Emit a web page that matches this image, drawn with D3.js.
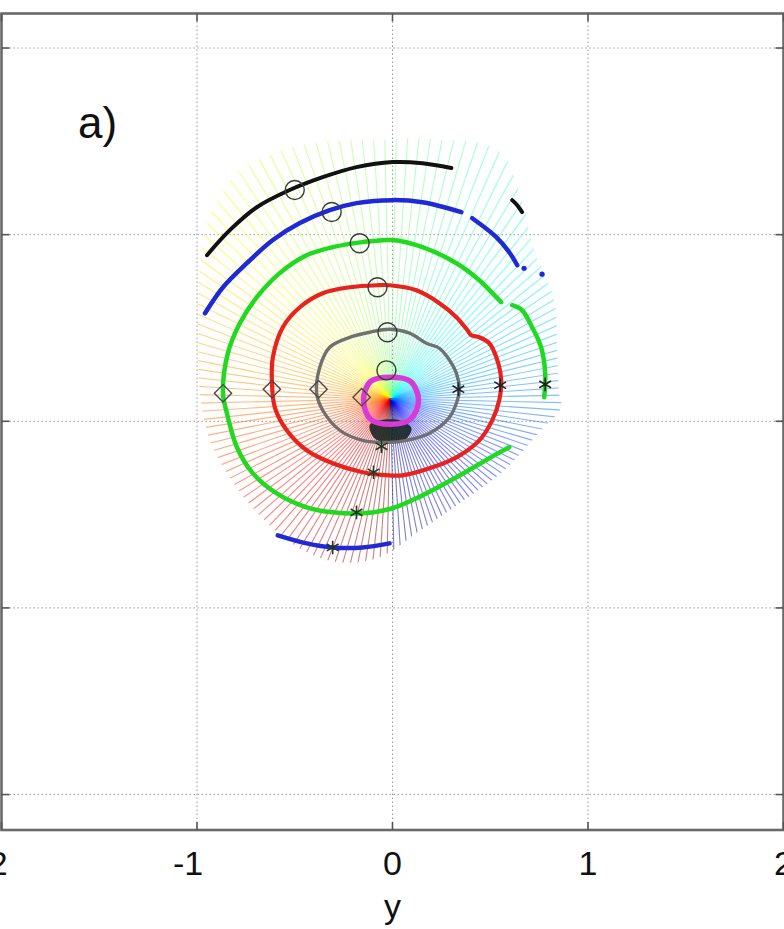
<!DOCTYPE html>
<html>
<head>
<meta charset="utf-8">
<script src="https://cdn.jsdelivr.net/npm/d3@7"></script>
<style>
  html, body { margin: 0; padding: 0; background: #fff; }
  svg { display: block; }
  text { font-family: "Liberation Sans", Arial, Helvetica, sans-serif; fill: #111; }
</style>
</head>
<body>
<svg id="chart" width="784" height="929"></svg>
<script>
// ---- axes ----------------------------------------------------------------
const xTicks = [-2, -1, 0, 1, 2];
const zTicks = [-2, -1, 0, 1, 2];
const xLabel = "y";
const panelTag = "a)";

// ---- point source and ray fan --------------------------------------------
const source = [-0.01, 0.12];
const rayStep = 2.5;               // degrees between take-off angles
// outer edge reached by the rays (closed outline, counter-clockwise)
const rayReach = [
  [0.852, 0.150], [0.842, 0.381], [0.827, 0.649], [0.724, 0.917], [0.660, 1.185],
  [0.540, 1.453], [0.240, 1.510], [0.000, 1.510], [-0.321, 1.500], [-0.600, 1.440],
  [-0.800, 1.320], [-0.934, 1.105], [-0.990, 0.800], [-0.995, 0.450], [-0.985, 0.150],
  [-0.934, -0.102], [-0.806, -0.343], [-0.653, -0.531], [-0.474, -0.681], [-0.270, -0.756],
  [-0.066, -0.729], [0.128, -0.595], [0.342, -0.440], [0.571, -0.263], [0.750, -0.059],
  [0.862, 0.075]
];

// ---- wavefronts (x, z) ---------------------------------------------------
const wfMagenta = [
  [-0.010, 0.236], [0.092, 0.214], [0.133, 0.113], [0.092, 0.011],
  [-0.010, -0.016], [-0.112, 0.011], [-0.148, 0.113], [-0.112, 0.214]
];
const wfGray = [
  [-0.015, 0.493], [0.087, 0.472], [0.173, 0.418], [0.240, 0.391], [0.281, 0.343],
  [0.327, 0.257], [0.342, 0.166], [0.332, 0.113], [0.291, 0.021], [0.189, -0.064],
  [0.071, -0.102], [-0.015, -0.113], [-0.153, -0.102], [-0.270, -0.048], [-0.357, 0.059],
  [-0.388, 0.150], [-0.372, 0.290], [-0.321, 0.397], [-0.219, 0.450], [-0.117, 0.477]
];
const wfRed = [
  [-0.015, 0.729], [0.122, 0.702], [0.240, 0.633], [0.327, 0.558], [0.383, 0.488],
  [0.403, 0.461], [0.444, 0.450], [0.495, 0.418], [0.531, 0.343], [0.556, 0.220],
  [0.546, 0.113], [0.510, 0.005], [0.444, -0.102], [0.327, -0.193], [0.189, -0.252],
  [0.051, -0.290], [-0.015, -0.290], [-0.153, -0.273], [-0.306, -0.225], [-0.439, -0.155],
  [-0.541, -0.048], [-0.602, 0.075], [-0.617, 0.220], [-0.612, 0.343], [-0.561, 0.504],
  [-0.474, 0.611], [-0.357, 0.686], [-0.219, 0.718], [-0.082, 0.729]
];
const wfGreenMain = [
  [0.556, 0.638], [0.531, 0.665], [0.444, 0.756], [0.327, 0.847], [0.153, 0.933],
  [0.000, 0.971], [-0.153, 0.960], [-0.306, 0.933], [-0.439, 0.890], [-0.577, 0.794],
  [-0.694, 0.665], [-0.781, 0.525], [-0.842, 0.365], [-0.867, 0.150], [-0.847, 0.043],
  [-0.796, -0.139], [-0.714, -0.279], [-0.592, -0.386], [-0.439, -0.461], [-0.306, -0.488],
  [-0.153, -0.493], [0.000, -0.466], [0.153, -0.397], [0.327, -0.300], [0.495, -0.198],
  [0.597, -0.139]
];
const wfGreenRight = [
  [0.612, 0.622], [0.663, 0.595], [0.714, 0.504], [0.760, 0.397], [0.781, 0.257], [0.776, 0.129]
];
const wfBlueUpper = [
  [-0.959, 0.579], [-0.867, 0.718], [-0.745, 0.847], [-0.612, 0.971], [-0.474, 1.062],
  [-0.321, 1.131], [-0.184, 1.169], [0.000, 1.185], [0.153, 1.174], [0.352, 1.121]
];
const wfBlueRight = [[0.408, 1.088], [0.531, 0.987], [0.597, 0.906], [0.638, 0.836]];
const wfBlueLower = [
  [-0.587, -0.611], [-0.439, -0.654], [-0.306, -0.676], [-0.153, -0.676], [-0.015, -0.654]
];
const blueDots = [[0.673, 0.820], [0.765, 0.788]];
const wfBlackMain = [
  [-0.949, 0.890], [-0.832, 1.024], [-0.694, 1.147], [-0.526, 1.239], [-0.357, 1.308],
  [-0.184, 1.362], [0.000, 1.389], [0.153, 1.383], [0.301, 1.357]
];
const wfBlackTail = [[0.612, 1.185], [0.638, 1.158], [0.663, 1.121]];

// dark core just below the source
const coreShadow = [
  [-0.117, -0.021], [-0.066, 0.005], [0.036, 0.005], [0.097, -0.038],
  [0.061, -0.102], [-0.015, -0.118], [-0.092, -0.091]
];

// ---- ray markers on the wavefronts -----------------------------------------
const upRayMarks = [
  [-0.031, 0.273], [-0.026, 0.477], [-0.077, 0.718], [-0.168, 0.954], [-0.311, 1.121], [-0.500, 1.239]
];
const leftRayMarks = [[-0.158, 0.129], [-0.378, 0.172], [-0.617, 0.172], [-0.867, 0.150]];
const rightRayMarks = [[0.337, 0.172], [0.551, 0.193], [0.781, 0.198]];
const downRayMarks = [[-0.056, -0.134], [-0.097, -0.273], [-0.184, -0.488], [-0.306, -0.676]];

// ---------------------------------------------------------------------------
const svg = d3.select("#chart");
const x = d3.scaleLinear().domain([-2, 2]).range([1.5, 783.5]);
const z = d3.scaleLinear().domain([-2.19, 2.185]).range([830, 13.5]);
const [x0, x1] = x.range();
const [zb, zt] = z.range();

// jet-style colour map over the take-off angle, starting straight down
const jet = d3.scaleLinear()
  .domain([0, 0.125, 0.375, 0.625, 0.875, 1])
  .range(["#000080", "#0000ff", "#00ffff", "#ffff00", "#ff0000", "#800000"])
  .interpolate(d3.interpolateRgb);
const rayColour = deg => jet((((deg - 270) % 360) + 360) % 360 / 360);

// grid
const grid = svg.append("g").attr("stroke", "#9a9a9a").attr("stroke-width", 1)
  .attr("stroke-dasharray", "1.5,2.5");
grid.selectAll(".gx").data(xTicks.filter(t => t > -2 && t < 2)).join("line")
  .attr("x1", d => x(d)).attr("x2", d => x(d)).attr("y1", zt).attr("y2", zb);
grid.selectAll(".gz").data(zTicks).join("line")
  .attr("x1", x0).attr("x2", x1).attr("y1", d => z(d)).attr("y2", d => z(d));

// ray fan, clipped to the reach outline
const closedCurve = d3.line().x(d => x(d[0])).y(d => z(d[1])).curve(d3.curveCatmullRomClosed.alpha(0.5));
const openCurve = d3.line().x(d => x(d[0])).y(d => z(d[1])).curve(d3.curveCatmullRom.alpha(0.5));
svg.append("defs").append("clipPath").attr("id", "reach")
  .append("path").attr("d", closedCurve(rayReach));

const sx = x(source[0]), sy = z(source[1]);
const takeoff = d3.range(rayStep / 2, 360, rayStep);
svg.append("g").attr("clip-path", "url(#reach)")
  .selectAll("line").data(takeoff).join("line")
  .attr("x1", sx).attr("y1", sy)
  .attr("x2", d => sx + 400 * Math.cos(d * Math.PI / 180))
  .attr("y2", d => sy - 400 * Math.sin(d * Math.PI / 180))
  .attr("stroke", d => rayColour(d))
  .attr("stroke-opacity", 0.5)
  .attr("stroke-width", 1.1);

// dark core
svg.append("path").attr("d", closedCurve(coreShadow))
  .attr("fill", "#0e1e18").attr("opacity", 0.85);

// wavefronts
const fronts = [
  { pts: wfBlackMain, closed: false, color: "#111111", w: 4 },
  { pts: wfBlackTail, closed: false, color: "#111111", w: 4 },
  { pts: wfBlueUpper, closed: false, color: "#1f2ad6", w: 4.5 },
  { pts: wfBlueRight, closed: false, color: "#1f2ad6", w: 4.5 },
  { pts: wfBlueLower, closed: false, color: "#1f2ad6", w: 4.5 },
  { pts: wfGreenMain, closed: false, color: "#22d922", w: 4.5 },
  { pts: wfGreenRight, closed: false, color: "#22d922", w: 4.5 },
  { pts: wfRed, closed: true, color: "#e8231e", w: 4.2 },
  { pts: wfGray, closed: true, color: "#707070", w: 3.4 },
  { pts: wfMagenta, closed: true, color: "#d83ad8", w: 5.5 }
];
svg.append("g").attr("fill", "none").attr("stroke-linecap", "round").attr("stroke-linejoin", "round")
  .selectAll("path").data(fronts).join("path")
  .attr("d", d => (d.closed ? closedCurve : openCurve)(d.pts))
  .attr("stroke", d => d.color).attr("stroke-width", d => d.w);
svg.append("g").selectAll("circle").data(blueDots).join("circle")
  .attr("cx", d => x(d[0])).attr("cy", d => z(d[1])).attr("r", 2.6).attr("fill", "#1f2ad6");

// markers
const mk = svg.append("g").attr("fill", "none");
mk.selectAll(".up").data(upRayMarks).join("ellipse")
  .attr("cx", d => x(d[0])).attr("cy", d => z(d[1])).attr("rx", 9.5).attr("ry", 9.5)
  .attr("stroke", "#3a3a3a").attr("stroke-width", 1.4);
mk.selectAll(".left").data(leftRayMarks).join("path")
  .attr("transform", d => `translate(${x(d[0])},${z(d[1])}) rotate(45)`)
  .attr("d", d3.symbol(d3.symbolSquare, 150))
  .attr("stroke", "#4a4a4a").attr("stroke-width", 1.4);
const ast = d3.symbol(d3.symbolAsterisk, 130);
mk.selectAll(".right").data(rightRayMarks).join("path")
  .attr("transform", d => `translate(${x(d[0])},${z(d[1])})`)
  .attr("d", ast).attr("stroke", "#222").attr("stroke-width", 1.6);
mk.selectAll(".down").data(downRayMarks).join("path")
  .attr("transform", d => `translate(${x(d[0])},${z(d[1])})`)
  .attr("d", ast).attr("stroke", "#1f3a25").attr("stroke-width", 1.6);

// frame and ticks
svg.append("rect").attr("x", x0).attr("y", zt).attr("width", x1 - x0).attr("height", zb - zt)
  .attr("fill", "none").attr("stroke", "#6a6a6a").attr("stroke-width", 2.6);
const tk = svg.append("g").attr("stroke", "#555").attr("stroke-width", 1.6);
const tl = 8;
tk.selectAll(".tt").data(xTicks).join("line")
  .attr("x1", d => x(d)).attr("x2", d => x(d)).attr("y1", zt).attr("y2", zt + tl);
tk.selectAll(".tb").data(xTicks).join("line")
  .attr("x1", d => x(d)).attr("x2", d => x(d)).attr("y1", zb).attr("y2", zb - tl);
tk.selectAll(".tlft").data(zTicks).join("line")
  .attr("x1", x0).attr("x2", x0 + tl).attr("y1", d => z(d)).attr("y2", d => z(d));
tk.selectAll(".trgt").data(zTicks).join("line")
  .attr("x1", x1).attr("x2", x1 - tl).attr("y1", d => z(d)).attr("y2", d => z(d));

// labels
svg.append("g").selectAll("text").data(xTicks).join("text")
  .attr("x", d => x(d)).attr("y", 875)
  .attr("dx", d => d < 0 ? -9 : 0)
  .attr("text-anchor", "middle").attr("font-size", 34)
  .text(d => String(d));
svg.append("text").attr("x", x(0)).attr("y", 918).attr("text-anchor", "middle")
  .attr("font-size", 34).text(xLabel);
svg.append("text").attr("x", 78).attr("y", 138).attr("font-size", 44).text(panelTag);
</script>
</body>
</html>
